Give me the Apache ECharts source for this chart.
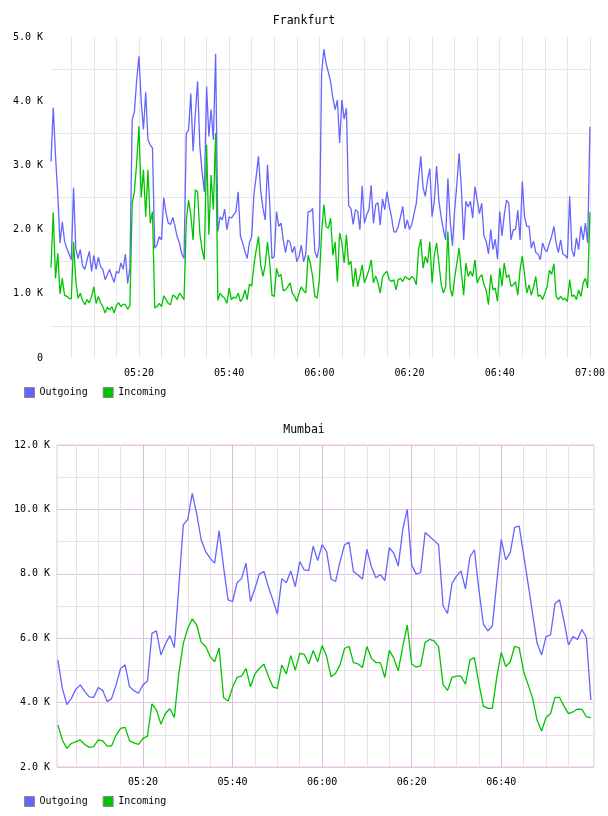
<!DOCTYPE html>
<html>
<head>
<meta charset="utf-8">
<title>Frankfurt / Mumbai traffic</title>
<script src="https://cdn.jsdelivr.net/npm/echarts@6/dist/echarts.min.js"></script>
<style>
  html, body { margin: 0; padding: 0; background: #fff; }
  #main { width: 608px; height: 816px; }
</style>
</head>
<body>
<div id="main"></div>
<script>
// time is minutes after midnight, values are in K
var frankStart = 300.5, frankStep = 0.5;
var frankOut = [
  3.06,3.90, 3.15,2.55, 1.79,2.12, 1.82,1.71, 1.62,1.53, 2.65,1.70, 1.55,1.69, 1.44,1.38, 1.53,1.66, 1.35,1.60,
  1.38,1.57, 1.42,1.38, 1.22,1.30, 1.38,1.27, 1.18,1.35, 1.32,1.48, 1.38,1.62, 1.16,1.40, 3.71,3.84, 4.33,4.70,
  4.00,3.56, 4.14,3.40, 3.32,3.27, 1.71,1.76, 1.89,1.84, 2.50,2.26, 2.10,2.08, 2.19,2.05, 1.88,1.79, 1.62,1.55,
  3.50,3.55, 4.12,3.22, 3.80,4.31, 3.30,2.90, 2.59,4.23, 3.45,3.87, 3.40,4.74, 1.97,2.20, 2.15,2.32, 2.00,2.20,
  2.18,2.23, 2.28,2.59, 1.90,1.79, 1.66,1.55, 1.80,1.89, 2.55,2.83, 3.14,2.60, 2.33,2.15, 3.01,2.41, 1.55,1.58,
  2.28,2.05, 2.10,1.84, 1.64,1.84, 1.80,1.64, 1.74,1.50, 1.58,1.76, 1.50,1.62, 2.28,2.28, 2.33,1.66, 1.56,1.76,
  4.44,4.81, 4.59,4.45, 4.30,4.05, 3.87,4.02, 3.35,4.02, 3.72,3.89, 2.37,2.33, 2.08,2.31, 2.28,2.00, 2.68,2.10,
  2.23,2.31, 2.69,2.10, 2.39,2.42, 2.07,2.48, 2.31,2.59, 2.36,2.20, 1.97,1.96, 2.05,2.20, 2.36,2.01, 2.15,2.00,
  2.08,2.25, 2.41,2.80, 3.14,2.65, 2.52,2.78, 2.95,2.20, 2.45,2.99, 2.45,2.20, 2.00,1.84, 2.80,2.15, 1.75,2.30,
  2.72,3.19, 2.62,1.84, 2.44,2.35, 2.44,2.18, 2.67,2.46, 2.25,2.41, 1.90,1.82, 1.62,2.00, 1.69,1.85, 1.54,2.28,
  1.90,2.23, 2.46,2.41, 1.84,2.00, 2.00,2.30, 1.84,2.75, 2.20,2.05, 2.05,1.71, 1.82,1.64, 1.62,1.53, 1.79,1.69,
  1.66,1.79, 1.89,2.05, 1.79,1.64, 1.84,1.62, 1.60,1.55, 2.52,1.68, 1.58,1.87, 1.69,2.05, 1.84,2.10, 1.79,3.60
];
var frankIn = [
  1.41,2.27, 1.24,1.63, 1.00,1.24, 0.98,0.96, 0.93,0.92, 1.81,1.20, 0.93,1.01, 0.90,0.83, 0.91,0.86, 0.96,1.11,
  0.85,0.96, 0.86,0.80, 0.70,0.79, 0.75,0.80, 0.70,0.82, 0.86,0.80, 0.84,0.83, 0.76,0.82, 2.40,2.60, 3.04,3.61,
  2.50,2.93, 2.20,2.93, 2.10,2.28, 0.78,0.80, 0.85,0.80, 0.97,0.91, 0.85,0.83, 0.98,0.96, 0.91,1.01, 0.96,0.91,
  2.13,2.46, 2.23,1.84, 2.62,2.59, 1.94,1.69, 1.53,3.32, 1.92,2.85, 2.31,3.50, 0.90,1.01, 0.96,0.93, 0.85,1.09,
  0.91,0.95, 0.93,1.01, 0.88,0.93, 1.06,0.91, 1.15,1.12, 1.45,1.68, 1.89,1.45, 1.27,1.45, 1.81,1.48, 0.98,0.96,
  1.40,1.27, 1.30,1.05, 1.06,1.11, 1.17,1.01, 0.96,0.88, 1.01,1.11, 1.05,1.01, 1.60,1.48, 1.27,0.96, 0.93,1.22,
  1.95,2.39, 2.05,2.02, 2.18,1.60, 1.81,1.19, 1.95,1.79, 1.48,1.92, 1.45,1.51, 1.11,1.40, 1.11,1.27, 1.45,1.17,
  1.27,1.37, 1.53,1.17, 1.28,1.17, 1.01,1.26, 1.32,1.35, 1.22,1.19, 1.22,1.06, 1.22,1.24, 1.19,1.27, 1.24,1.22,
  1.27,1.24, 1.14,1.69, 1.85,1.40, 1.58,1.48, 1.81,1.16, 1.60,1.79, 1.48,1.16, 1.01,1.11, 1.97,1.09, 0.96,1.25,
  1.48,1.71, 1.32,0.98, 1.48,1.27, 1.35,1.27, 1.53,1.17, 1.25,1.30, 1.14,1.05, 0.83,1.30, 1.06,1.09, 0.88,1.40,
  1.12,1.48, 1.25,1.30, 1.12,1.14, 1.19,0.98, 1.37,1.59, 1.30,1.01, 1.14,0.98, 1.11,1.27, 0.96,0.98, 0.91,1.01,
  1.11,1.37, 1.30,1.47, 0.96,0.91, 0.96,0.91, 0.93,0.88, 1.22,0.96, 0.98,0.91, 1.06,0.96, 1.17,1.24, 1.09,2.27
];

var mumStart = 301, mumStep = 1;
var mumOut = [
  5.32,4.44,3.94,4.13,4.41,4.55,4.34,4.18,4.16,4.47,
  4.38,4.03,4.13,4.55,5.06,5.17,4.49,4.37,4.29,4.55,
  4.67,6.15,6.23,5.48,5.82,6.08,5.71,7.60,9.52,9.69,
  10.50,9.86,9.05,8.69,8.48,8.33,9.34,8.20,7.19,7.14,
  7.72,7.85,8.33,7.14,7.55,8.00,8.07,7.60,7.19,6.75,
  7.85,7.72,8.09,7.60,8.38,8.12,8.10,8.86,8.41,8.91,
  8.69,7.83,7.76,8.38,8.90,8.98,8.07,7.96,7.84,8.76,
  8.22,7.88,7.98,7.79,8.81,8.64,8.24,9.38,10.00,8.27,
  7.99,8.04,9.28,9.16,9.03,8.90,7.00,6.77,7.70,7.93,
  8.09,7.53,8.53,8.74,7.50,6.44,6.23,6.38,7.75,9.07,
  8.43,8.66,9.44,9.48,8.58,7.68,6.75,5.84,5.48,6.05,
  6.10,7.08,7.19,6.54,5.79,6.05,5.96,6.27,6.02,4.08
];
var mumIn = [
  3.30,2.84,2.58,2.73,2.78,2.84,2.70,2.61,2.63,2.84,
  2.81,2.65,2.66,2.99,3.20,3.23,2.81,2.75,2.70,2.89,
  2.96,3.96,3.77,3.33,3.66,3.81,3.54,4.91,5.84,6.31,
  6.60,6.41,5.87,5.74,5.43,5.27,5.70,4.15,4.05,4.47,
  4.78,4.82,5.06,4.49,4.89,5.06,5.19,4.82,4.49,4.44,
  5.17,4.89,5.46,5.01,5.53,5.50,5.20,5.62,5.27,5.77,
  5.43,4.80,4.91,5.17,5.68,5.75,5.24,5.20,5.09,5.74,
  5.38,5.24,5.24,4.78,5.62,5.38,4.99,5.74,6.41,5.20,
  5.10,5.14,5.87,5.96,5.92,5.74,4.56,4.38,4.78,4.82,
  4.82,4.57,5.32,5.40,4.59,3.89,3.82,3.82,4.80,5.56,
  5.12,5.27,5.75,5.70,4.96,4.55,4.13,3.45,3.12,3.54,
  3.66,4.16,4.16,3.89,3.66,3.71,3.80,3.79,3.56,3.53
];

// 5 minute grid lines, labels every 20 minutes
var frankTicks = [];
for (var m = 305; m <= 420; m += 5) frankTicks.push(m);
var mumTicks = [];
for (var m = 305; m <= 415; m += 5) mumTicks.push(m);
var frankLabels = [320, 340, 360, 380, 400, 420];
var mumLabels = [320, 340, 360, 380, 400];

var BLUE = '#6464ff', GREEN = '#00c400';
var FONT = 'DejaVu Sans Mono';

function pairs(start, step, vals) {
  return vals.map(function (v, i) { return [start + i * step, v]; });
}
function hhmm(v) {
  var h = Math.floor(v / 60), mi = Math.round(v - h * 60);
  return (h < 10 ? '0' : '') + h + ':' + (mi < 10 ? '0' : '') + mi;
}
function kLabel(v) {
  return v === 0 ? '0' : v.toFixed(1) + ' K';
}

function lineSeries(name, xi, vals, start, step, color) {
  return {
    name: name, type: 'line', xAxisIndex: xi, yAxisIndex: xi,
    data: pairs(start, step, vals),
    showSymbol: false, symbol: 'none',
    lineStyle: { color: color, width: 1.3 },
    itemStyle: { color: color },
    animation: false
  };
}

var chart = echarts.init(document.getElementById('main'));
var legendBase = {
  orient: 'horizontal', left: 24, padding: 0,
  itemWidth: 10, itemHeight: 10, itemGap: 15,
  icon: 'rect',
  itemStyle: { borderColor: '#888', borderWidth: 1 },
  textStyle: { fontFamily: FONT, fontSize: 10, color: '#000' },
  data: ['Outgoing', 'Incoming'],
  selectedMode: false
};

chart.setOption({
  backgroundColor: '#fff',
  animation: false,
  title: [
    { text: 'Frankfurt', left: 'center', top: 15, padding: 0,
      textStyle: { fontFamily: FONT, fontSize: 11.5, fontWeight: 'normal', color: '#000' } },
    { text: 'Mumbai', left: 'center', top: 424, padding: 0,
      textStyle: { fontFamily: FONT, fontSize: 11.5, fontWeight: 'normal', color: '#000' } }
  ],
  legend: [
    Object.assign({}, legendBase, { top: 387 }),
    Object.assign({}, legendBase, { top: 796 })
  ],
  grid: [
    { left: 51, top: 37, width: 540, height: 321, show: false },
    { left: 57, top: 445, width: 537, height: 322, show: true,
      borderColor: '#e4c4e4', borderWidth: 1, backgroundColor: 'transparent' }
  ],
  xAxis: [
    { type: 'value', gridIndex: 0, min: frankStart, max: 420,
      axisLine: { show: false },
      axisTick: { show: false, customValues: frankTicks },
      axisLabel: { customValues: frankLabels, formatter: hhmm, margin: 10,
        fontFamily: FONT, fontSize: 10, color: '#000' },
      splitLine: { show: true, lineStyle: { color: '#e6e6e6', width: 1 } } },
    { type: 'value', gridIndex: 1, min: 300.8, max: 420.7,
      axisLine: { show: false },
      axisTick: { show: false, customValues: mumTicks },
      axisLabel: { customValues: mumLabels, formatter: hhmm, margin: 10,
        fontFamily: FONT, fontSize: 10, color: '#000' },
      splitLine: { show: true, lineStyle: { color: ['#e8e2e8', '#e8e2e8', '#e8e2e8', '#dcbcdc'], width: 1 } } }
  ],
  yAxis: [
    { type: 'value', gridIndex: 0, min: 0, max: 5, interval: 0.5,
      axisLine: { show: false }, axisTick: { show: false },
      axisLabel: { margin: 8, fontFamily: FONT, fontSize: 10, color: '#000',
        formatter: function (v) { return Math.abs(v % 1) < 1e-6 ? kLabel(v) : ''; } },
      splitLine: { show: true, lineStyle: { color: ['rgba(0,0,0,0)', '#e6e6e6'], width: 1 } } },
    { type: 'value', gridIndex: 1, min: 2, max: 12, interval: 1,
      axisLine: { show: false }, axisTick: { show: false },
      axisLabel: { margin: 7, fontFamily: FONT, fontSize: 10, color: '#000',
        formatter: function (v) { return v % 2 === 0 ? kLabel(v) : ''; } },
      splitLine: { show: true, lineStyle: { color: ['#e4c4e4', '#e8e2e8'], width: 1 } } }
  ],
  series: [
    lineSeries('Outgoing', 0, frankOut, frankStart, frankStep, BLUE),
    lineSeries('Incoming', 0, frankIn, frankStart, frankStep, GREEN),
    lineSeries('Outgoing', 1, mumOut, mumStart, mumStep, BLUE),
    lineSeries('Incoming', 1, mumIn, mumStart, mumStep, GREEN)
  ]
});
</script>
</body>
</html>
